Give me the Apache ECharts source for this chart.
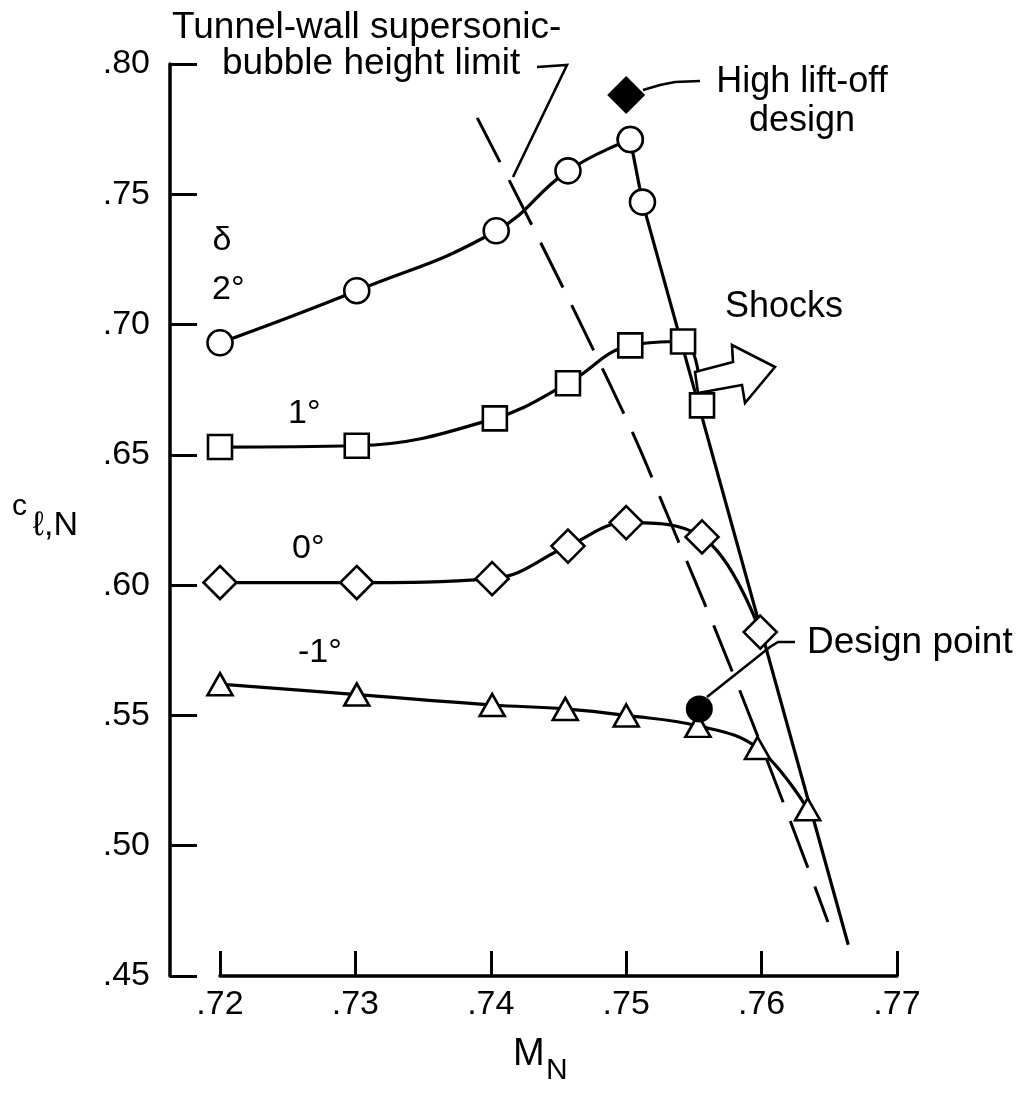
<!DOCTYPE html>
<html>
<head>
<meta charset="utf-8">
<script src="https://cdn.jsdelivr.net/npm/echarts@6/dist/echarts.min.js"></script>
<style>
  html, body { margin: 0; padding: 0; background: #fff; }
  #chart { width: 1021px; height: 1095px; }
</style>
</head>
<body>
<div id="chart"></div>
<script>
// ---- data ----
const xTicks = [0.72, 0.73, 0.74, 0.75, 0.76, 0.77];
const yTicks = [0.45, 0.50, 0.55, 0.60, 0.65, 0.70, 0.75, 0.80];

// delta = 2 deg (circles)
const machD2 = [0.7200, 0.7301, 0.7404, 0.7457, 0.7503, 0.7512];
const clD2   = [0.693, 0.713, 0.736, 0.759, 0.771, 0.747];
// delta = 1 deg (squares)
const machD1 = [0.7200, 0.7301, 0.7403, 0.7457, 0.7503, 0.7542, 0.7556];
const clD1   = [0.653, 0.6535, 0.664, 0.6775, 0.692, 0.6935, 0.669];
// delta = 0 deg (diamonds)
const machD0 = [0.7200, 0.7301, 0.7401, 0.7457, 0.7500, 0.7556, 0.7599];
const clD0   = [0.601, 0.601, 0.6025, 0.615, 0.624, 0.6185, 0.582];
// delta = -1 deg (triangles)
const machDm1 = [0.7200, 0.7301, 0.7401, 0.7455, 0.7500, 0.7553, 0.7597, 0.7634];
const clDm1   = [0.562, 0.558, 0.554, 0.5525, 0.550, 0.546, 0.5375, 0.514];

// special points
const designPoint = [0.7554, 0.5525];
const highLiftOff = [0.7500, 0.7881];

// shock boundary (solid straight line)
const machShock = [0.7512, 0.7664];
const clShock   = [0.747, 0.462];

// tunnel-wall supersonic-bubble height limit (dashed)
const machTunnel = [0.7390, 0.7489, 0.7536, 0.7593, 0.7649];
const clTunnel   = [0.7793, 0.6760, 0.6200, 0.5475, 0.4707];

const zip = (a, b) => a.map((v, i) => [v, b[i]]);
const FONT = '"Liberation Sans", Arial, Helvetica, sans-serif';
const BLACK = '#000';

const markerStyle = { color: '#fff', borderColor: BLACK, borderWidth: 2.6, opacity: 1 };
const lineStyle = { color: BLACK, width: 3.2 };

function dataSeries(name, data, symbol, size, smooth) {
  return {
    name, type: 'line', data, smooth: smooth,
    symbol, symbolSize: size, showSymbol: true,
    itemStyle: markerStyle, lineStyle, z: 3,
    emphasis: { disabled: true }, animation: false
  };
}

function txt(text, x, y, size, align) {
  return {
    type: 'text', x, y, z: 20,
    style: { text, fontSize: size, fontFamily: FONT, fill: BLACK,
             align: align || 'left', verticalAlign: 'middle' }
  };
}
function poly(points, closed) {
  return {
    type: closed ? 'polygon' : 'polyline', z: 15,
    shape: { points },
    style: { stroke: BLACK, lineWidth: 2.6, fill: closed ? '#fff' : null }
  };
}

const chart = echarts.init(document.getElementById('chart'), null, { renderer: 'canvas' });

const d2 = zip(machD2, clD2);

const option = {
  backgroundColor: '#fff',
  animation: false,
  grid: { left: 220, right: 124, top: 64, bottom: 119, containLabel: false },
  xAxis: {
    type: 'value', min: xTicks[0], max: xTicks[xTicks.length - 1], interval: 0.01,
    axisLine: { show: true, onZero: false, lineStyle: { color: BLACK, width: 3.5 } },
    axisTick: { show: true, inside: true, length: 25, lineStyle: { color: BLACK, width: 3 } },
    axisLabel: { margin: 12, fontSize: 34, fontFamily: FONT, color: BLACK,
                 formatter: v => v.toFixed(2).replace(/^0/, '') },
    splitLine: { show: false }
  },
  yAxis: {
    type: 'value', min: yTicks[0], max: yTicks[yTicks.length - 1], interval: 0.05,
    offset: 50,
    axisLine: { show: true, onZero: false, lineStyle: { color: BLACK, width: 3.5 } },
    axisTick: { show: true, inside: true, length: 27, lineStyle: { color: BLACK, width: 3 } },
    axisLabel: { margin: 20, fontSize: 34, fontFamily: FONT, color: BLACK,
                 formatter: v => v.toFixed(2).replace(/^0/, '') },
    splitLine: { show: false }
  },
  series: [
    {
      name: 'Tunnel-wall limit', type: 'line', data: zip(machTunnel, clTunnel),
      smooth: 0.5, symbol: 'none', z: 1,
      lineStyle: { color: BLACK, width: 3, type: [50, 20] }
    },
    {
      name: 'Shock boundary', type: 'line', data: zip(machShock, clShock),
      symbol: 'none', z: 1, lineStyle: { color: BLACK, width: 3.2 }
    },
    dataSeries('2°', d2.slice(0, 5), 'circle', 25, 0.45),
    dataSeries('2° (post-peak)', d2.slice(4), 'circle', 25, false),
    dataSeries('1°', zip(machD1, clD1), 'rect', 24, 0.4),
    dataSeries('0°', zip(machD0, clD0), 'diamond', 33, 0.4),
    dataSeries('-1°', zip(machDm1, clDm1), 'triangle', [25, 22], 0.4),
    {
      name: 'Design point', type: 'scatter', data: [designPoint],
      symbol: 'circle', symbolSize: 27, z: 5,
      itemStyle: { color: BLACK, opacity: 1 }
    },
    {
      name: 'High lift-off design', type: 'scatter', data: [highLiftOff],
      symbol: 'diamond', symbolSize: 38, z: 5,
      itemStyle: { color: BLACK, opacity: 1 }
    }
  ],
  graphic: [
    txt('Tunnel-wall supersonic-', 172, 28, 37),
    txt('bubble height limit', 222, 64, 37),
    poly([[537, 67], [567, 65], [513, 177]]),
    txt('High lift-off', 802, 82, 36, 'center'),
    txt('design', 802, 121, 36, 'center'),
    poly([[643, 90], [660, 85], [675, 82], [700, 81]]),
    txt('Shocks', 725, 307, 36),
    poly([[695, 372], [733, 362], [732, 345], [775, 367], [745, 403], [742, 385], [698, 393]], true),
    txt('Design point', 807, 643, 37),
    poly([[707, 697], [770, 647], [778, 642], [795, 642]]),
    txt('δ', 222, 241, 34, 'center'),
    txt('2°', 212, 290, 34),
    txt('1°', 288, 414, 34),
    txt('0°', 292, 549, 34),
    txt('-1°', 298, 653, 34),
    txt('M', 513, 1055, 38),
    txt('N', 546, 1071, 30),
    txt('c', 12, 507, 30),
    txt('ℓ,N', 33, 526, 34)
  ]
};

chart.setOption(option);
</script>
</body>
</html>
